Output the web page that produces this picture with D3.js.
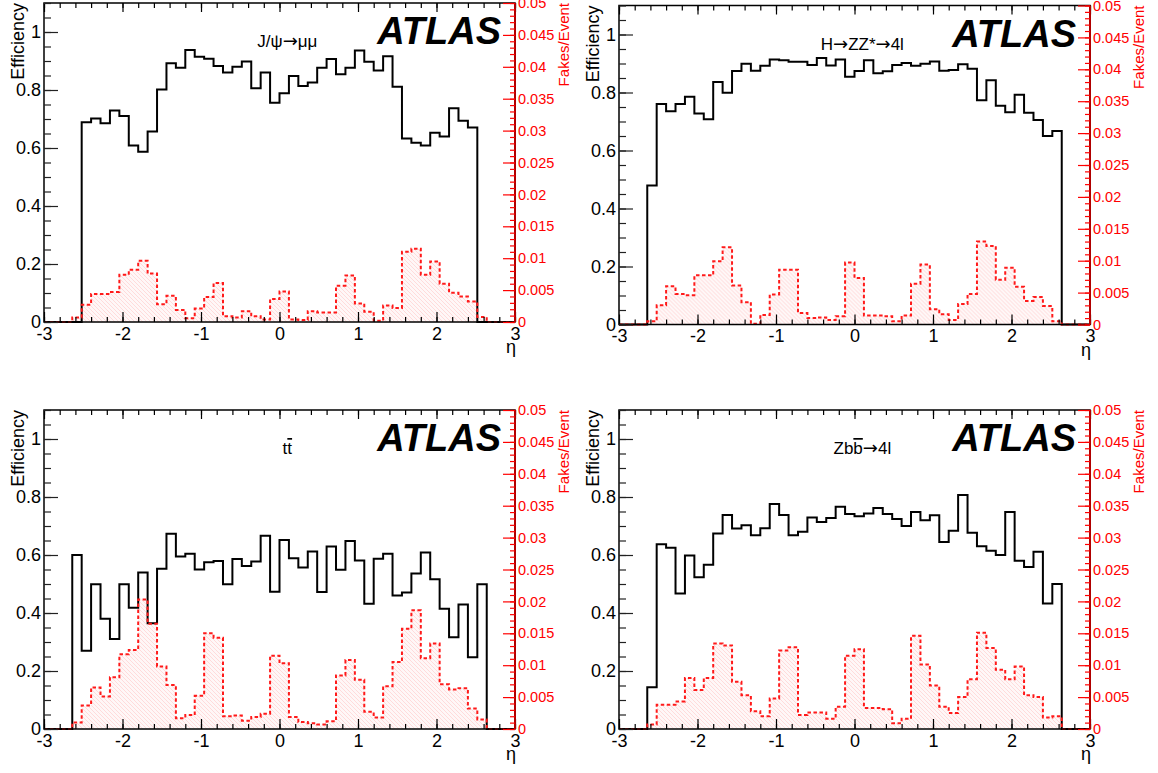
<!DOCTYPE html>
<html>
<head>
<meta charset="utf-8">
<script src="https://cdn.jsdelivr.net/npm/d3@7"></script>
<style>
  html, body { margin: 0; padding: 0; background: #fff; }
  svg { display: block; font-family: "Liberation Sans", Arial, Helvetica, sans-serif; }
</style>
</head>
<body>
<svg id="chart" width="1158" height="773"></svg>
<script>
// ---------------- DATA ----------------
const etaMin = -3, etaMax = 3, nBins = 50;

const effJpsi = [0,0,0,0,
  0.689,0.702,0.685,0.729,0.710,0.609,0.587,0.657,0.802,0.892,
  0.877,0.938,0.915,0.908,0.883,0.860,0.880,0.898,0.806,0.860,
  0.756,0.789,0.848,0.814,0.826,0.877,0.907,0.854,0.877,0.936,
  0.897,0.867,0.916,0.811,0.633,0.618,0.609,0.653,0.640,0.737,
  0.694,0.671,0,0,0,0];
const fakeJpsi = [0,0,0,0.0007,
  0.0027,0.0044,0.0044,0.0047,0.0074,0.0082,0.0096,0.0076,0.0028,0.0041,
  0.0019,0.0006,0.0021,0.0039,0.0061,0.0009,0.0007,0.0017,0.0009,0.0004,
  0.0036,0.0048,0.0004,0.0003,0.0017,0.0015,0.0015,0.0057,0.0073,0.0029,
  0.0016,0.0002,0.0026,0.0022,0.0110,0.0115,0.0074,0.0095,0.0060,0.0046,
  0.0040,0.0032,0.0008,0,0,0];

const effHZZ = [0,0,0,0.479,
  0.760,0.735,0.760,0.785,0.728,0.708,0.836,0.799,0.874,0.899,
  0.875,0.892,0.914,0.911,0.906,0.906,0.895,0.919,0.893,0.914,
  0.854,0.874,0.911,0.866,0.873,0.895,0.902,0.892,0.899,0.907,
  0.875,0.878,0.897,0.882,0.773,0.842,0.754,0.732,0.792,0.730,
  0.705,0.650,0.667,0,0,0];
const fakeHZZ = [0,0,0,0.0005,
  0.0030,0.0060,0.0048,0.0046,0.0077,0.0077,0.0099,0.0121,0.0061,0.0035,
  0.0001,0.0015,0.0047,0.0086,0.0086,0.0018,0.0010,0.0011,0.0007,0.0013,
  0.0097,0.0073,0.0014,0.0014,0.0013,0.0005,0.0014,0.0064,0.0094,0.0024,
  0.0016,0.0007,0.0032,0.0048,0.0130,0.0123,0.0070,0.0089,0.0059,0.0037,
  0.0043,0.0029,0.0005,0,0,0];

const effTTbar = [0,0,0,0.600,
  0.270,0.499,0.380,0.310,0.499,0.418,0.540,0.365,0.553,0.673,
  0.595,0.604,0.550,0.575,0.579,0.499,0.586,0.562,0.578,0.666,
  0.473,0.652,0.589,0.557,0.612,0.472,0.629,0.549,0.648,0.581,
  0.432,0.587,0.604,0.460,0.471,0.536,0.609,0.516,0.415,0.316,
  0.429,0.247,0.499,0,0,0];
const fakeTTbar = [0,0,0,0.0010,
  0.0037,0.0065,0.0051,0.0081,0.0117,0.0124,0.0203,0.0165,0.0098,0.0069,
  0.0017,0.0022,0.0052,0.0150,0.0143,0.0020,0.0021,0.0013,0.0019,0.0024,
  0.0115,0.0103,0.0019,0.0011,0.0009,0.0007,0.0012,0.0084,0.0108,0.0077,
  0.0027,0.0018,0.0067,0.0105,0.0157,0.0186,0.0111,0.0134,0.0070,0.0062,
  0.0064,0.0032,0.0015,0,0,0];

const effZbb = [0,0,0,0.144,
  0.637,0.625,0.467,0.598,0.523,0.566,0.674,0.738,0.691,0.703,
  0.668,0.692,0.776,0.738,0.668,0.680,0.729,0.714,0.728,0.766,
  0.741,0.734,0.743,0.762,0.741,0.724,0.700,0.748,0.720,0.737,
  0.645,0.684,0.807,0.677,0.630,0.615,0.600,0.748,0.580,0.559,
  0.611,0.433,0.500,0,0,0];
const fakeZbb = [0,0,0,0.0007,
  0.0038,0.0038,0.0043,0.0080,0.0061,0.0080,0.0134,0.0131,0.0074,0.0053,
  0.0028,0.0020,0.0048,0.0123,0.0128,0.0022,0.0026,0.0026,0.0016,0.0035,
  0.0115,0.0125,0.0033,0.0033,0.0031,0.0009,0.0016,0.0146,0.0101,0.0068,
  0.0035,0.0025,0.0050,0.0078,0.0151,0.0127,0.0093,0.0078,0.0098,0.0053,
  0.0050,0.0018,0.0020,0,0,0];

const xMajorTicks = [-3,-2,-1,0,1,2,3];
const effMajorTicks = [0,0.2,0.4,0.6,0.8,1];
const fakeMajorTicks = [0,0.005,0.01,0.015,0.02,0.025,0.03,0.035,0.04,0.045,0.05];
const effLabel = "Efficiency";
const fakeLabel = "Fakes/Event";
const xLabel = "η";
const atlasLabel = "ATLAS";
// title pieces: [text, style] with style "" (plain), "bar" (overlined), "arrow" (symbol)
const titleJpsi = [["J/ψ", ""], ["→", "arrow"], ["μμ", ""]];
const titleHZZ = [["H", ""], ["→", "arrow"], ["ZZ*", ""], ["→", "arrow"], ["4l", ""]];
const titleTTbar = [["t", ""], ["t", "bar"]];
const titleZbb = [["Zb", ""], ["b", "bar"], ["→", "arrow"], ["4l", ""]];

// ---------------- LAYOUT ----------------
const W = 471, H = 319;
const panels = [
  {eff: effJpsi,  fake: fakeJpsi,  left: 44,  top: 3,   title: titleJpsi},
  {eff: effHZZ,   fake: fakeHZZ,   left: 619, top: 5.5, title: titleHZZ},
  {eff: effTTbar, fake: fakeTTbar, left: 44,  top: 410, title: titleTTbar},
  {eff: effZbb,   fake: fakeZbb,   left: 619, top: 410, title: titleZbb}
];

const svg = d3.select("#chart");
const defs = svg.append("defs");
const pat = defs.append("pattern").attr("id", "hatch")
  .attr("patternUnits", "userSpaceOnUse").attr("width", 4).attr("height", 4);
pat.append("rect").attr("width", 4).attr("height", 4).attr("fill", "#fff7f7");
pat.append("path").attr("d", "M0,0 L4,4 M-1,3 L1,5 M3,-1 L5,1")
  .attr("stroke", "#ffcfcf").attr("stroke-width", 0.7);

const edges = d3.range(nBins + 1).map(i => etaMin + (etaMax - etaMin) * i / nBins);
function stepPoints(vals) {
  const pts = [];
  vals.forEach((v, i) => { pts.push([edges[i], v]); pts.push([edges[i + 1], v]); });
  return pts;
}

panels.forEach(p => {
  const g = svg.append("g").attr("transform", `translate(${p.left},${p.top})`);
  const x = d3.scaleLinear().domain([etaMin, etaMax]).range([0, W]);
  const y = d3.scaleLinear().domain([0, 1.1]).range([H, 0]);
  const yr = d3.scaleLinear().domain([0, 0.05]).range([H, 0]);

  // fakes fill (hatched)
  const fpts = stepPoints(p.fake);
  g.append("path").datum(fpts)
    .attr("d", d3.area().x(d => x(d[0])).y0(H).y1(d => yr(d[1])))
    .attr("fill", "url(#hatch)");

  // efficiency histogram
  g.append("path").datum(stepPoints(p.eff))
    .attr("d", d3.line().x(d => x(d[0])).y(d => y(d[1])))
    .attr("fill", "none").attr("stroke", "#000").attr("stroke-width", 2);

  // fakes line
  g.append("path").datum(fpts)
    .attr("d", d3.line().x(d => x(d[0])).y(d => yr(d[1])))
    .attr("fill", "none").attr("stroke", "#ff1a1a").attr("stroke-width", 2)
    .attr("stroke-dasharray", "3.5,2.5");

  // frame
  g.append("rect").attr("x", 0).attr("y", 0).attr("width", W).attr("height", H)
    .attr("fill", "none").attr("stroke", "#000").attr("stroke-width", 1.5);

  const styleAxis = (sel, color) => {
    sel.select(".domain").remove();
    sel.selectAll(".tick line").attr("stroke", color).attr("stroke-width", 1.2);
    sel.selectAll(".tick text").attr("fill", color);
  };

  // bottom x axis
  const xMinor = d3.range(-30, 31, 2).map(v => v / 10);
  g.append("g").attr("transform", `translate(0,${H})`)
    .call(d3.axisBottom(x).tickValues(xMinor).tickSize(-5).tickFormat(""))
    .call(s => styleAxis(s, "#000"));
  g.append("g").attr("transform", `translate(0,${H})`)
    .call(d3.axisBottom(x).tickValues(xMajorTicks).tickSize(-10).tickPadding(5)
      .tickFormat(d => String(d)))
    .call(s => styleAxis(s, "#000"))
    .call(s => s.selectAll(".tick text").attr("font-size", 18).attr("font-family", null));
  // top x axis (ticks only)
  g.append("g")
    .call(d3.axisTop(x).tickValues(xMinor).tickSize(-5).tickFormat(""))
    .call(s => styleAxis(s, "#000"));
  g.append("g")
    .call(d3.axisTop(x).tickValues(xMajorTicks).tickSize(-9).tickFormat(""))
    .call(s => styleAxis(s, "#000"));

  // left efficiency axis
  const yMinor = d3.range(0, 23).map(i => i * 0.05);
  g.append("g")
    .call(d3.axisLeft(y).tickValues(yMinor).tickSize(-7).tickFormat(""))
    .call(s => styleAxis(s, "#222"));
  g.append("g")
    .call(d3.axisLeft(y).tickValues(effMajorTicks).tickSize(-14).tickPadding(3)
      .tickFormat(d3.format("~g")))
    .call(s => styleAxis(s, "#222"))
    .call(s => s.selectAll(".tick text").attr("fill", "#000").attr("font-size", 18).attr("font-family", null));

  // right fakes axis
  const rMinor = d3.range(0, 51).map(i => i * 0.001);
  const gr = g.append("g").attr("transform", `translate(${W},0)`);
  gr.append("line").attr("x1", 0).attr("x2", 0).attr("y1", 0).attr("y2", H)
    .attr("stroke", "#b00000").attr("stroke-width", 2);
  gr.append("g")
    .call(d3.axisRight(yr).tickValues(rMinor).tickSize(-5).tickFormat(""))
    .call(s => styleAxis(s, "#ff0000"));
  gr.append("g")
    .call(d3.axisRight(yr).tickValues(fakeMajorTicks).tickSize(-12).tickPadding(3)
      .tickFormat(d3.format("~g")))
    .call(s => styleAxis(s, "#ff0000"))
    .call(s => s.selectAll(".tick text").attr("font-size", 14.5).attr("font-family", null));

  // axis titles
  g.append("text").attr("transform", `translate(-20.5,0) rotate(-90)`)
    .attr("text-anchor", "end").attr("font-size", 18).attr("fill", "#000").text(effLabel);
  g.append("text").attr("transform", `translate(${W + 54},0) rotate(-90)`)
    .attr("text-anchor", "end").attr("font-size", 15).attr("fill", "#ff0000").text(fakeLabel);
  g.append("text").attr("x", W + 1).attr("y", H + 31)
    .attr("text-anchor", "end").attr("font-size", 18).attr("fill", "#000").text(xLabel);

  // ATLAS label
  g.append("text").attr("x", W - 14).attr("y", 41)
    .attr("text-anchor", "end").attr("font-size", 38).attr("font-weight", "bold")
    .attr("font-style", "italic").attr("fill", "#000").text(atlasLabel);

  // process title
  const t = g.append("text").attr("x", x(0.1)).attr("y", 44)
    .attr("text-anchor", "middle").attr("font-size", 17).attr("fill", "#000");
  p.title.forEach(([s, kind]) => {
    const ts = t.append("tspan").text(s);
    if (kind === "bar") ts.style("text-decoration", "overline");
    if (kind === "arrow") ts.attr("font-family", "DejaVu Sans").attr("font-size", 18);
  });
});
</script>
</body>
</html>
